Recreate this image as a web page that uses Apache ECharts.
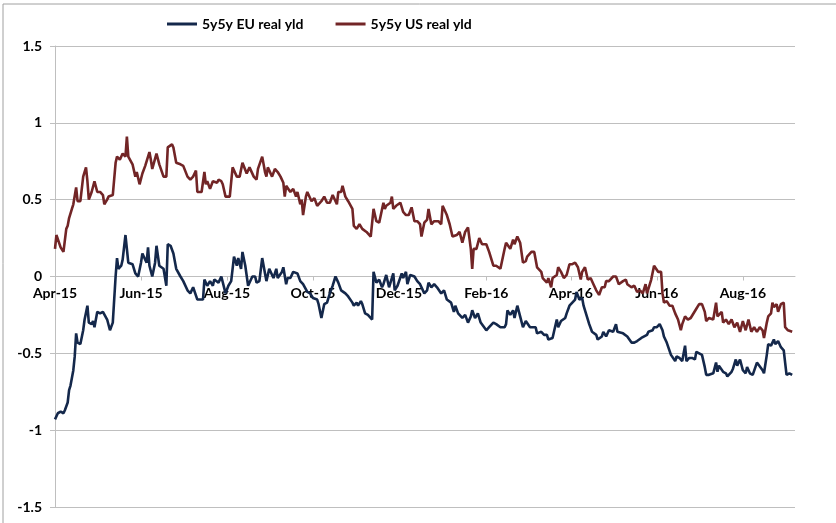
<!DOCTYPE html>
<html>
<head>
<meta charset="utf-8">
<script src="https://cdn.jsdelivr.net/npm/echarts@6/dist/echarts.min.js"></script>
<style>
html,body{margin:0;padding:0;background:#fff;}
#chart{width:836px;height:523px;}
</style>
</head>
<body>
<div id="chart"></div>
<script>
// x values: days since 1 Apr 2015
const tickDays = [0, 61, 122, 183, 244, 306, 366, 427, 488];
const tickLabels = ['Apr-15', 'Jun-15', 'Aug-15', 'Oct-15', 'Dec-15', 'Feb-16', 'Apr-16', 'Jun-16', 'Aug-16'];

const euName = '5y5y EU real yld';
const usName = '5y5y US real yld';

const euDays = [0,2,4,6,7,9,10,11,13,14,15,16,18,20,21,23,24,26,27,28,30,32,34,35,37,39,41,43,44,45,47,48,50,52,55,57,59,61,62,65,66,67,69,71,72,74,77,79,80,82,84,86,89,91,94,96,98,101,103,105,106,108,110,112,113,116,118,119,121,123,125,127,129,130,132,133,135,137,140,142,143,145,147,149,150,152,155,157,158,161,162,164,165,167,169,172,174,176,179,181,183,186,187,189,191,193,195,197,199,201,203,206,208,211,212,214,215,217,218,220,222,225,226,228,230,232,233,235,237,240,241,243,246,247,249,250,252,255,257,259,262,264,265,267,269,271,274,276,278,279,281,283,284,286,289,291,293,295,296,298,300,302,303,306,308,311,313,314,316,319,320,321,323,325,326,328,330,332,334,337,339,341,342,345,347,349,350,353,354,356,357,359,362,363,365,367,369,370,372,374,375,377,379,381,384,385,388,389,391,393,396,398,399,403,404,406,407,409,411,413,416,418,420,421,424,425,427,429,431,432,434,437,440,441,443,445,446,447,448,450,452,454,455,457,459,461,462,464,467,469,470,471,474,476,477,480,481,483,484,486,488,490,491,493,495,498,499,502,503,505,506,508,510,511,513,515,517,518,519,521,523];
const euValues = [-0.93,-0.89,-0.88,-0.89,-0.87,-0.82,-0.74,-0.71,-0.61,-0.52,-0.37,-0.43,-0.44,-0.35,-0.28,-0.19,-0.30,-0.31,-0.29,-0.33,-0.23,-0.24,-0.23,-0.24,-0.28,-0.35,-0.30,0.00,0.12,0.05,0.07,0.11,0.27,0.09,0.08,0.02,0.00,0.09,0.15,0.09,0.19,0.07,0.00,0.09,0.20,0.07,0.05,-0.06,0.21,0.20,0.15,0.05,0.00,-0.03,-0.09,-0.11,-0.07,-0.15,-0.15,-0.15,-0.02,-0.06,-0.03,-0.06,-0.02,-0.04,0.00,-0.01,-0.11,-0.06,-0.03,0.13,0.07,0.12,0.05,0.16,0.07,-0.06,0.00,0.00,-0.04,-0.03,0.12,0.02,-0.03,0.05,-0.01,0.05,-0.01,0.03,0.06,-0.05,-0.01,-0.01,0.03,0.02,-0.03,-0.05,-0.10,-0.11,-0.14,-0.15,-0.18,-0.27,-0.18,-0.17,-0.11,-0.06,0.00,-0.04,-0.09,-0.11,-0.13,-0.17,-0.19,-0.17,-0.19,-0.16,-0.18,-0.24,-0.25,-0.28,0.03,-0.04,-0.02,-0.07,-0.05,0.01,-0.07,0.02,-0.09,-0.06,0.02,-0.01,0.03,-0.05,0.01,0.00,-0.03,-0.05,-0.11,-0.09,-0.04,-0.07,-0.05,-0.07,-0.11,-0.09,-0.15,-0.15,-0.17,-0.23,-0.19,-0.24,-0.27,-0.25,-0.30,-0.26,-0.22,-0.27,-0.24,-0.30,-0.31,-0.35,-0.33,-0.30,-0.31,-0.30,-0.33,-0.33,-0.31,-0.22,-0.25,-0.22,-0.27,-0.19,-0.26,-0.33,-0.29,-0.33,-0.33,-0.33,-0.37,-0.36,-0.38,-0.38,-0.41,-0.40,-0.36,-0.28,-0.33,-0.29,-0.27,-0.24,-0.19,-0.17,-0.15,-0.10,-0.15,-0.14,-0.19,-0.25,-0.31,-0.36,-0.38,-0.41,-0.39,-0.36,-0.39,-0.35,-0.36,-0.31,-0.36,-0.37,-0.36,-0.39,-0.40,-0.43,-0.43,-0.42,-0.40,-0.39,-0.38,-0.36,-0.35,-0.33,-0.33,-0.31,-0.35,-0.39,-0.43,-0.51,-0.55,-0.52,-0.53,-0.55,-0.50,-0.45,-0.55,-0.53,-0.53,-0.54,-0.49,-0.50,-0.51,-0.59,-0.64,-0.64,-0.63,-0.56,-0.62,-0.58,-0.62,-0.63,-0.65,-0.62,-0.60,-0.54,-0.58,-0.54,-0.61,-0.63,-0.59,-0.63,-0.64,-0.56,-0.55,-0.61,-0.63,-0.51,-0.44,-0.45,-0.41,-0.44,-0.42,-0.46,-0.48,-0.56,-0.64,-0.63,-0.64];

const usDays = [0,1,4,6,8,9,10,12,13,15,16,18,20,22,23,24,26,28,30,32,34,35,37,38,41,43,44,46,48,50,51,52,55,57,58,60,62,64,67,68,69,72,74,77,79,80,83,84,86,89,91,94,96,98,100,101,104,106,107,108,110,112,115,116,118,119,121,124,126,129,131,133,136,138,141,143,144,147,149,150,151,154,156,158,160,162,163,164,167,169,171,172,174,175,176,178,179,182,184,186,189,191,193,195,197,200,201,203,204,206,208,211,212,214,216,218,221,224,226,228,230,233,234,235,238,239,240,242,245,247,249,251,253,255,257,259,260,262,264,265,267,269,272,274,275,278,280,282,285,287,289,291,293,295,296,297,299,301,303,306,308,311,313,316,319,320,323,325,326,328,330,332,334,335,338,340,342,345,346,349,350,352,353,356,357,359,361,363,365,367,369,371,373,374,376,378,380,382,384,386,388,390,391,393,396,398,400,403,405,406,409,411,413,415,417,419,420,423,425,426,428,430,431,432,434,436,438,440,442,444,445,447,449,451,452,455,457,459,461,462,464,467,469,470,473,474,476,478,480,482,484,486,488,490,492,494,496,498,500,502,503,505,506,508,509,510,512,513,515,517,518,520,523];
const usValues = [0.18,0.27,0.19,0.16,0.31,0.33,0.38,0.44,0.47,0.58,0.49,0.49,0.65,0.71,0.62,0.50,0.55,0.62,0.55,0.55,0.53,0.47,0.50,0.52,0.53,0.74,0.78,0.76,0.80,0.78,0.91,0.78,0.73,0.65,0.68,0.60,0.67,0.72,0.81,0.76,0.70,0.80,0.73,0.65,0.65,0.84,0.86,0.84,0.74,0.73,0.72,0.65,0.63,0.65,0.69,0.55,0.55,0.68,0.60,0.62,0.57,0.62,0.61,0.63,0.62,0.60,0.52,0.52,0.71,0.65,0.65,0.74,0.67,0.71,0.65,0.63,0.70,0.78,0.68,0.65,0.71,0.65,0.70,0.68,0.65,0.61,0.52,0.59,0.55,0.57,0.52,0.55,0.47,0.50,0.40,0.52,0.55,0.49,0.51,0.46,0.49,0.52,0.48,0.48,0.53,0.47,0.55,0.55,0.59,0.52,0.49,0.44,0.33,0.31,0.34,0.31,0.29,0.26,0.44,0.36,0.35,0.48,0.44,0.46,0.48,0.52,0.44,0.46,0.48,0.42,0.40,0.40,0.45,0.36,0.36,0.34,0.26,0.35,0.37,0.44,0.34,0.36,0.36,0.34,0.46,0.40,0.34,0.26,0.27,0.29,0.22,0.29,0.32,0.18,0.05,0.18,0.18,0.25,0.21,0.21,0.16,0.07,0.07,0.05,0.18,0.22,0.18,0.24,0.21,0.26,0.22,0.09,0.10,0.13,0.16,0.16,0.06,0.03,-0.01,-0.04,-0.01,-0.07,-0.01,0.01,0.06,0.03,-0.01,0.01,0.08,0.08,0.09,0.06,-0.02,0.03,0.06,-0.02,-0.01,-0.05,-0.09,-0.12,-0.07,-0.07,-0.03,-0.03,0.00,0.00,-0.05,-0.03,-0.02,-0.05,-0.07,-0.06,-0.10,-0.09,-0.11,-0.05,-0.11,-0.02,0.07,0.08,0.03,0.03,-0.11,-0.17,-0.16,-0.19,-0.19,-0.24,-0.28,-0.35,-0.31,-0.26,-0.28,-0.27,-0.26,-0.21,-0.18,-0.18,-0.23,-0.29,-0.27,-0.28,-0.17,-0.26,-0.23,-0.30,-0.28,-0.31,-0.28,-0.33,-0.30,-0.36,-0.29,-0.35,-0.28,-0.36,-0.33,-0.36,-0.33,-0.35,-0.40,-0.30,-0.26,-0.24,-0.17,-0.20,-0.18,-0.23,-0.18,-0.17,-0.33,-0.35,-0.36];

const euData = euDays.map((d, i) => [d, euValues[i]]);
const usData = usDays.map((d, i) => [d, usValues[i]]);

const FONT = 'Lato';
const W = 836, H = 523;
const gridTop = 46, gridBottom = 16, gridLeft = 55, gridRight = 41;
const yMin = -1.5, yMax = 1.5;
// move the x axis from the bottom of the plot up to the value 0
const plotH = H - gridTop - gridBottom;
const zeroOffset = -plotH * (0 - yMin) / (yMax - yMin);

const chart = echarts.init(document.getElementById('chart'), null, {renderer: 'canvas', width: W, height: H});
chart.setOption({
  animation: false,
  backgroundColor: '#ffffff',
  graphic: [
    {type: 'line', shape: {x1: 3, y1: 4, x2: W, y2: 4}, style: {stroke: '#a0a0a0', lineWidth: 1}},
    {type: 'line', shape: {x1: 3, y1: 4, x2: 3, y2: H}, style: {stroke: '#a0a0a0', lineWidth: 1}}
  ],
  legend: {
    left: 162,
    top: 12,
    icon: 'rect',
    itemWidth: 30,
    itemHeight: 3,
    itemGap: 32,
    textStyle: {fontFamily: FONT, fontWeight: 'bold', fontSize: 14, color: '#000'},
    data: [euName, usName]
  },
  grid: {left: gridLeft, right: gridRight, top: gridTop, bottom: gridBottom, containLabel: false, outerBoundsMode: 'none'},
  xAxis: {
    type: 'value',
    min: 0,
    max: 525,
    position: 'bottom',
    offset: zeroOffset,
    axisLine: {onZero: false, lineStyle: {color: '#bfbfbf', width: 1}},
    axisTick: {show: true, customValues: tickDays, length: 4, lineStyle: {color: '#bfbfbf'}},
    axisLabel: {
      customValues: tickDays,
      margin: 10,
      fontFamily: FONT, fontWeight: 'bold', fontSize: 14, color: '#000',
      formatter: function (v) { const i = tickDays.indexOf(v); return i >= 0 ? tickLabels[i] : ''; }
    },
    splitLine: {show: false}
  },
  yAxis: {
    type: 'value',
    min: yMin,
    max: yMax,
    interval: 0.5,
    axisLine: {show: true, lineStyle: {color: '#bfbfbf', width: 1}},
    axisTick: {show: true, length: 5, lineStyle: {color: '#bfbfbf'}},
    axisLabel: {
      margin: 13,
      fontFamily: FONT, fontWeight: 'bold', fontSize: 14, color: '#000',
      formatter: function (v) { return String(Math.round(v * 10) / 10); }
    },
    splitLine: {show: true, lineStyle: {color: '#bfbfbf', width: 1}}
  },
  series: [
    {
      name: euName, type: 'line', data: euData, showSymbol: false, symbol: 'none',
      lineStyle: {color: '#14284b', width: 2.6}, itemStyle: {color: '#14284b'}, z: 3
    },
    {
      name: usName, type: 'line', data: usData, showSymbol: false, symbol: 'none',
      lineStyle: {color: '#722526', width: 2.6}, itemStyle: {color: '#722526'}, z: 2
    }
  ]
});
</script>
</body>
</html>
